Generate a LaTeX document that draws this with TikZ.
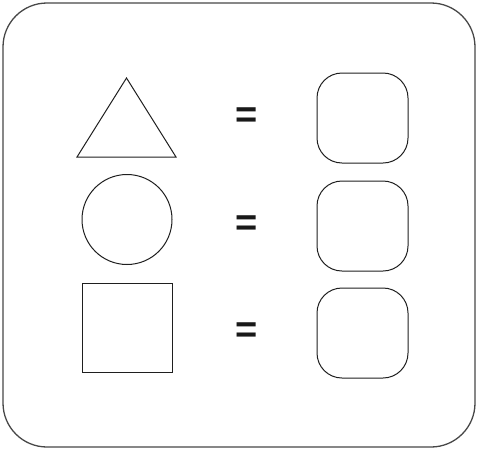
\documentclass[tikz,border=0pt]{standalone}
\usepackage{fontspec}
\setmainfont{Liberation Sans}
\begin{document}
\begin{tikzpicture}[x=1pt,y=-1pt,
  frame/.style={draw=black!72,line width=1.3pt,rounded corners=44pt},
  shapeline/.style={draw=black!88,line width=1pt},
  answerbox/.style={draw=black!88,line width=1pt,rectangle,rounded corners=25pt,minimum width=91pt,minimum height=90pt,inner sep=0pt},
  eqsign/.style={font=\fontsize{38}{38}\selectfont\bfseries,inner sep=0pt,anchor=base,text=black!90}]
\useasboundingbox (0,0) rectangle (478,450);
\draw[frame] (3,3) rectangle (475,447);
% triangle
\coordinate (tA) at (126.5,78);
\coordinate (tL) at (77,157);
\coordinate (tR) at (176,157);
\draw[shapeline,line join=miter] (tA) -- (tL) -- (tR) -- cycle;
% circle
\node[shapeline,circle,minimum size=90pt,inner sep=0pt] (circ) at (127,219.5) {};
% square
\node[shapeline,rectangle,minimum width=90pt,minimum height=89pt,inner sep=0pt] (sq) at (127,327.5) {};
% equals
\node[eqsign] (eq1) at (246.5,127) {=};
\node[eqsign] (eq2) at (246.5,235) {=};
\node[eqsign] (eq3) at (246.5,342) {=};
% answer boxes
\node[answerbox] (b1) at (362.5,118) {};
\node[answerbox] (b2) at (362.5,226) {};
\node[answerbox] (b3) at (362.5,333) {};
\end{tikzpicture}
\end{document}
